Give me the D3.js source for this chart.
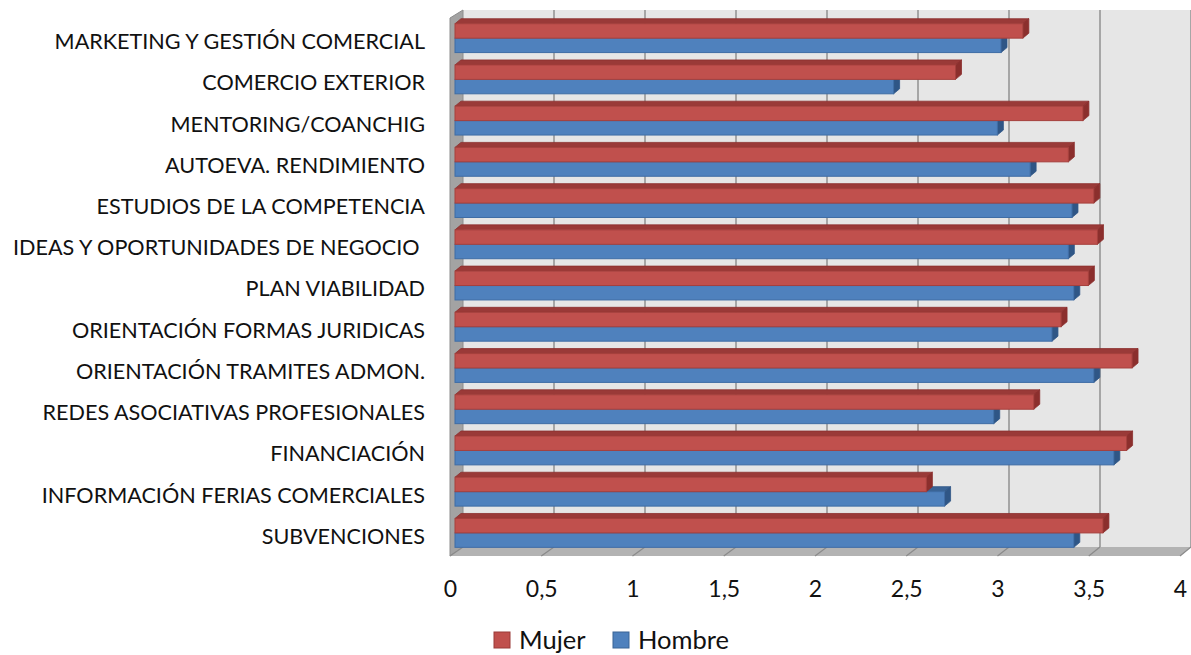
<!DOCTYPE html>
<html>
<head>
<meta charset="utf-8">
<script src="https://cdn.jsdelivr.net/npm/d3@7"></script>
<style>
  body { margin: 0; background: #fff; }
  svg text { font-family: Lato, "Noto Sans", sans-serif; fill: #111; }
</style>
</head>
<body>
<svg width="1191" height="655"></svg>
<script>
var categories = ["MARKETING Y GESTIÓN COMERCIAL", "COMERCIO EXTERIOR", "MENTORING/COANCHIG",
  "AUTOEVA. RENDIMIENTO", "ESTUDIOS DE LA COMPETENCIA", "IDEAS Y OPORTUNIDADES DE NEGOCIO ",
  "PLAN VIABILIDAD", "ORIENTACIÓN FORMAS JURIDICAS", "ORIENTACIÓN TRAMITES ADMON.",
  "REDES ASOCIATIVAS PROFESIONALES", "FINANCIACIÓN", "INFORMACIÓN FERIAS COMERCIALES", "SUBVENCIONES"];

var mujer  = [3.12, 2.75, 3.45, 3.37, 3.51, 3.53, 3.48, 3.33, 3.72, 3.18, 3.69, 2.59, 3.56];
var hombre = [3.00, 2.41, 2.98, 3.16, 3.39, 3.37, 3.40, 3.28, 3.51, 2.96, 3.62, 2.69, 3.40];

var seriesNames = ["Mujer", "Hombre"];
var xTicks = [0, 0.5, 1, 1.5, 2, 2.5, 3, 3.5, 4];

var svg = d3.select("svg");

// 3d box: back wall, side wall, floor
var xBack  = d3.scaleLinear().domain([0, 4]).range([463, 1191]);
var xFront = d3.scaleLinear().domain([0, 4]).range([450, 1180]);
var xBar   = d3.scaleLinear().domain([0, 4]).range([455, 1183]);
var wallTop = 10, wallBottom = 547, frontBottom = 556;

svg.append("rect")
  .attr("x", xBack(0)).attr("y", wallTop)
  .attr("width", xBack(4) - xBack(0)).attr("height", wallBottom - wallTop)
  .attr("fill", "#e6e6e6");

svg.append("g").selectAll("line")
  .data(xTicks.slice(1))
  .enter().append("line")
    .attr("x1", d => xBack(d)).attr("x2", d => xBack(d))
    .attr("y1", wallTop).attr("y2", wallBottom)
    .attr("stroke", "#8a8a8a").attr("stroke-width", 1.4);

svg.append("polygon")
  .attr("points", [[xFront(0), wallTop + 8], [xBack(0), wallTop], [xBack(0), wallBottom], [xFront(0), frontBottom]].join(" "))
  .attr("fill", "#a3a3a3").attr("stroke", "#8c8c8c").attr("stroke-width", 1);

svg.append("polygon")
  .attr("points", [[xBack(0), wallBottom], [xBack(4), wallBottom], [xFront(4), frontBottom], [xFront(0), frontBottom]].join(" "))
  .attr("fill", "#b3b3b3");

svg.append("g").selectAll("line")
  .data(xTicks)
  .enter().append("line")
    .attr("x1", d => xFront(d)).attr("y1", frontBottom)
    .attr("x2", d => xBack(d)).attr("y2", wallBottom)
    .attr("stroke", "#8a8a8a").attr("stroke-width", 1.2);

// bars
var y = d3.scaleBand()
  .domain(categories)
  .range([20, 556])
  .paddingInner(0.3)
  .paddingOuter(0.15)
  .align(0.3);

var ySub = d3.scaleBand().domain(seriesNames).range([0, y.bandwidth()]);

var colors = {
  Mujer:  {front: "#c0504d", top: "#9a3a38", side: "#8b2f2d", stroke: "#a5403d"},
  Hombre: {front: "#4f81bd", top: "#3a6496", side: "#2f5686", stroke: "#3f6da5"}
};

var dx = 6, dy = -5;

var rows = categories.map((c, i) => ({cat: c, Mujer: mujer[i], Hombre: hombre[i]}));

var groups = svg.append("g").selectAll("g")
  .data(rows)
  .enter().append("g")
    .attr("transform", d => "translate(0," + y(d.cat) + ")");

// draw lower bar (Hombre) first so the upper one covers its top face
["Hombre", "Mujer"].forEach(function(s) {
  var c = colors[s];
  var y0 = ySub(s), h = ySub.bandwidth();
  groups.append("polygon")
    .attr("points", d => [[xBar(0), y0], [xBar(0) + dx, y0 + dy], [xBar(d[s]) + dx, y0 + dy], [xBar(d[s]), y0]].join(" "))
    .attr("fill", c.top).attr("stroke", c.side).attr("stroke-width", 0.8);
  groups.append("polygon")
    .attr("points", d => [[xBar(d[s]), y0], [xBar(d[s]) + dx, y0 + dy], [xBar(d[s]) + dx, y0 + h + dy], [xBar(d[s]), y0 + h]].join(" "))
    .attr("fill", c.side).attr("stroke", c.side).attr("stroke-width", 0.8);
  groups.append("rect")
    .attr("x", xBar(0)).attr("y", y0)
    .attr("width", d => xBar(d[s]) - xBar(0)).attr("height", h)
    .attr("fill", c.front).attr("stroke", c.stroke).attr("stroke-width", 1);
});

// category labels
var yAxis = svg.append("g")
  .attr("transform", "translate(453,4)")
  .call(d3.axisLeft(y).tickSize(0).tickPadding(28));
yAxis.select(".domain").remove();
yAxis.selectAll("text")
  .style("font-family", "Lato, 'Noto Sans', sans-serif")
  .style("font-size", "21.6px")
  .style("white-space", "pre")
  .attr("fill", "#111");

// value labels
var xAxis = svg.append("g")
  .attr("transform", "translate(0," + frontBottom + ")")
  .call(d3.axisBottom(xFront).tickValues(xTicks).tickSize(0).tickPadding(25)
    .tickFormat(d => String(d).replace(".", ",")));
xAxis.select(".domain").remove();
xAxis.selectAll("text")
  .style("font-family", "Lato, 'Noto Sans', sans-serif")
  .style("font-size", "23px")
  .attr("fill", "#111");

// legend
var legend = svg.append("g").selectAll("g")
  .data(seriesNames)
  .enter().append("g")
    .attr("transform", (d, i) => "translate(" + [494, 613][i] + ",632)");
legend.append("rect")
  .attr("width", 16).attr("height", 16)
  .attr("fill", d => colors[d].front).attr("stroke", d => colors[d].top).attr("stroke-width", 1);
legend.append("text")
  .attr("x", 25).attr("y", 8).attr("dy", "0.35em")
  .style("font-size", "25.5px")
  .text(d => d);
</script>
</body>
</html>
